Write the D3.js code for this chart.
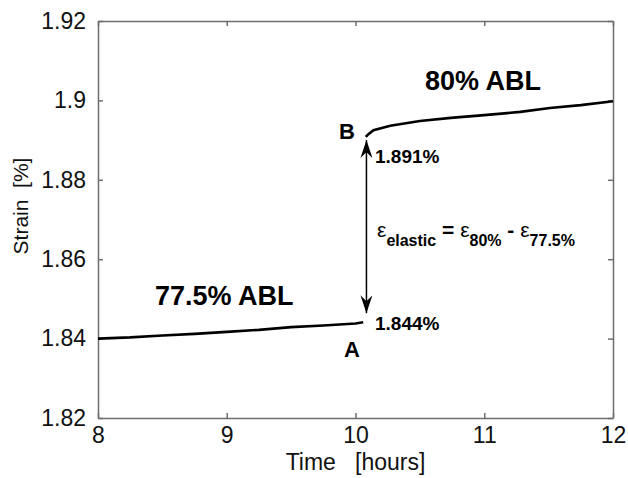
<!DOCTYPE html>
<html><head><meta charset="utf-8">
<script src="https://cdn.jsdelivr.net/npm/d3@7/dist/d3.min.js"></script>
<style>body{margin:0;background:#fff}svg{display:block;font-family:"Liberation Sans",Arial,sans-serif}text{white-space:pre}</style>
</head><body>
<svg id="c" width="628" height="478"></svg>
<script>
// Data
const seg1Time   = [8.0, 8.25, 8.5, 8.75, 9.0, 9.25, 9.5, 9.75, 10.0, 10.06];
const seg1Strain = [1.8400, 1.8403, 1.8408, 1.8412, 1.8417, 1.8422, 1.8429, 1.8433, 1.8438, 1.8441];
const seg2Time   = [10.08, 10.1, 10.14, 10.27, 10.5, 10.74, 11.0, 11.28, 11.51, 11.75, 12.0];
const seg2Strain = [1.8908, 1.8915, 1.8925, 1.8936, 1.8948, 1.8956, 1.8963, 1.8971, 1.8981, 1.8988, 1.8998];
const xTicks = [8, 9, 10, 11, 12];
const yTicks = [1.82, 1.84, 1.86, 1.88, 1.90, 1.92];
const yTickLabels = ["1.82", "1.84", "1.86", "1.88", "1.9", "1.92"];
const arrowTime = 10.085;
const arrowFrom = 1.8464, arrowTo = 1.8900;
const pointA = 1.844, pointB = 1.891;

const svg = d3.select("#c");
const L = 98, R = 613, T = 21, B = 418;
const x = d3.scaleLinear().domain([8, 12]).range([L, R]);
const y = d3.scaleLinear().domain([1.82, 1.92]).range([B, T]);
const frame = "#6e6e6e";

// axes (MATLAB box style, inward ticks mirrored)
const tl = 5;
svg.append("g").attr("transform", `translate(0,${B})`)
  .call(d3.axisBottom(x).tickValues(xTicks).tickSizeInner(-tl).tickSizeOuter(0).tickPadding(9).tickFormat(d3.format("d")))
  .call(g => { g.select(".domain").attr("stroke", frame).attr("stroke-width", 1.5);
    g.selectAll(".tick line").attr("stroke", frame).attr("stroke-width", 1.5);
    g.selectAll(".tick text").attr("font-size", 23).attr("fill", "#111").attr("font-family", "Liberation Sans, Arial"); });
svg.append("g").attr("transform", `translate(0,${T})`)
  .call(d3.axisTop(x).tickValues(xTicks).tickSizeInner(-tl).tickSizeOuter(0).tickFormat(""))
  .call(g => { g.select(".domain").attr("stroke", frame).attr("stroke-width", 1.5);
    g.selectAll(".tick line").attr("stroke", frame).attr("stroke-width", 1.5); });
svg.append("g").attr("transform", `translate(${L},0)`)
  .call(d3.axisLeft(y).tickValues(yTicks).tickSizeInner(-tl).tickSizeOuter(0).tickPadding(12).tickFormat((d, i) => yTickLabels[i]))
  .call(g => { g.select(".domain").attr("stroke", frame).attr("stroke-width", 1.5);
    g.selectAll(".tick line").attr("stroke", frame).attr("stroke-width", 1.5);
    g.selectAll(".tick text").attr("font-size", 23).attr("fill", "#111").attr("font-family", "Liberation Sans, Arial"); });
svg.append("g").attr("transform", `translate(${R},0)`)
  .call(d3.axisRight(y).tickValues(yTicks).tickSizeInner(-tl).tickSizeOuter(0).tickFormat(""))
  .call(g => { g.select(".domain").attr("stroke", frame).attr("stroke-width", 1.5);
    g.selectAll(".tick line").attr("stroke", frame).attr("stroke-width", 1.5); });

// axis labels
svg.append("text").attr("x", (L + R) / 2).attr("y", 470).attr("text-anchor", "middle")
  .attr("font-size", 23).attr("fill", "#111").text("Time   [hours]");
svg.append("text").attr("transform", `translate(28,206) rotate(-90)`).attr("text-anchor", "middle")
  .attr("font-size", 21).attr("fill", "#111").text("Strain  [%]");

// curves
const line = d3.line().x(d => x(d[0])).y(d => y(d[1]));
svg.append("path").datum(seg1Time.map((t, i) => [t, seg1Strain[i]]))
  .attr("d", line).attr("fill", "none").attr("stroke", "#000").attr("stroke-width", 2.6);
svg.append("path").datum(seg2Time.map((t, i) => [t, seg2Strain[i]]))
  .attr("d", line).attr("fill", "none").attr("stroke", "#000").attr("stroke-width", 2.6);

// double arrow
const defs = svg.append("defs");
defs.append("marker").attr("id", "ah").attr("viewBox", "0 0 18 12").attr("refX", 18).attr("refY", 6)
  .attr("markerWidth", 18).attr("markerHeight", 12).attr("markerUnits", "userSpaceOnUse").attr("orient", "auto-start-reverse")
  .append("path").attr("d", "M0,0 L18,6 L0,12 L6,6 Z").attr("fill", "#000");
svg.append("line").attr("x1", x(arrowTime)).attr("x2", x(arrowTime))
  .attr("y1", y(arrowFrom)).attr("y2", y(arrowTo)).attr("stroke", "#000").attr("stroke-width", 1.5)
  .attr("marker-start", "url(#ah)").attr("marker-end", "url(#ah)");

// annotations
const ann = (tx, ty, s, fs) => svg.append("text").attr("x", tx).attr("y", ty).attr("font-size", fs)
  .attr("font-weight", "bold").attr("fill", "#000").text(s);
ann(425, 90, "80% ABL", 27);
ann(155, 305, "77.5% ABL", 27);
ann(339, y(pointB) + 3, "B", 22);
ann(344, 357, "A", 22);
ann(375, 163, pointB.toFixed(3) + "%", 19);
ann(375, 330, pointA.toFixed(3) + "%", 19);

const eq = svg.append("text").attr("x", 377).attr("y", 237).attr("font-size", 21).attr("font-weight", "bold").attr("fill", "#000");
eq.append("tspan").attr("font-weight", "normal").text("ε");
eq.append("tspan").attr("dy", 9).attr("font-size", 16).text("elastic");
eq.append("tspan").attr("dy", -9).text(" = ");
eq.append("tspan").attr("font-weight", "normal").text("ε");
eq.append("tspan").attr("dy", 9).attr("font-size", 16).text("80%");
eq.append("tspan").attr("dy", -9).text(" - ");
eq.append("tspan").attr("font-weight", "normal").text("ε");
eq.append("tspan").attr("dy", 9).attr("font-size", 16).text("77.5%");
</script>
</body></html>
